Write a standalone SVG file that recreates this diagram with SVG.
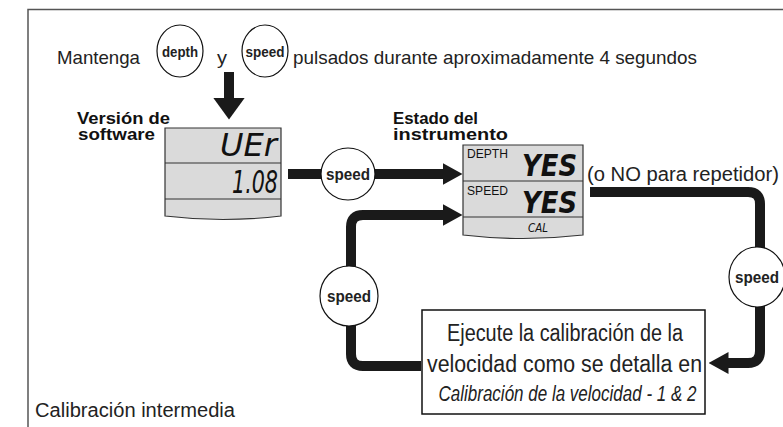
<svg xmlns="http://www.w3.org/2000/svg" width="783" height="427" viewBox="0 0 783 427">
<defs>
<marker id="ah" markerUnits="userSpaceOnUse" viewBox="0 0 20 22" refX="0.5" refY="11" markerWidth="20" markerHeight="22" orient="auto"><path d="M0,0 L20,11 L0,22 Z" fill="#1a1a1a"/></marker>
<marker id="ahBig" markerUnits="userSpaceOnUse" viewBox="0 0 22 32" refX="0.5" refY="16" markerWidth="22" markerHeight="32" orient="auto"><path d="M0,0 L22,16 L0,32 Z" fill="#1a1a1a"/></marker>
</defs>
<style>
.conn{fill:none;stroke:#1a1a1a;stroke-width:10}
.btn{fill:#fff;stroke:#111;stroke-width:1.2}
.btxt{font-family:"Liberation Sans",Arial,sans-serif;font-weight:bold;fill:#222;text-anchor:middle}
.t{font-family:"Liberation Sans",Arial,sans-serif;fill:#222}
.b{font-family:"Liberation Sans",Arial,sans-serif;font-weight:bold;fill:#111;font-size:16px}
.lcd{fill:#dadada;stroke:#333;stroke-width:1.2}
.div{stroke:#333;stroke-width:1.2}
.seg{font-family:"DejaVu Sans","Liberation Sans",sans-serif;font-style:italic;fill:#111;text-anchor:end}
.small{font-family:"Liberation Sans",Arial,sans-serif;fill:#111;font-size:12.5px}
</style>
<rect width="783" height="427" fill="#fff"/>
<path d="M28,427 V9.5 H783" fill="none" stroke="#555" stroke-width="1.5"/>

<g id="connectors">
<path class="conn" d="M229,72 V98" stroke-width="13" marker-end="url(#ahBig)"/>
<path class="conn" d="M288,174 H443" marker-end="url(#ah)"/>
<path class="conn" d="M421,366 H363 Q351,366 351,354 V227 Q351,215 363,215 H443" marker-end="url(#ah)"/>
<path class="conn" d="M590,192 H748 Q760,192 760,204 V351 Q760,363 748,363 H728" marker-end="url(#ah)"/>
</g>

<g id="instruction">
<text class="t" x="57" y="64" font-size="19" textLength="83" lengthAdjust="spacingAndGlyphs">Mantenga</text>
<text class="t" x="217" y="64" font-size="19" textLength="10" lengthAdjust="spacingAndGlyphs">y</text>
<text class="t" x="293" y="64" font-size="19" textLength="404" lengthAdjust="spacingAndGlyphs">pulsados durante aproximadamente 4 segundos</text>
</g>

<g id="btn-depth">
<ellipse class="btn" cx="180" cy="51" rx="23" ry="26"/>
<text class="btxt" x="180" y="56.5" font-size="15" textLength="36" lengthAdjust="spacingAndGlyphs">depth</text>
</g>
<g id="btn-speed-top">
<ellipse class="btn" cx="265" cy="51" rx="23" ry="26"/>
<text class="btxt" x="265" y="56.5" font-size="15" textLength="39" lengthAdjust="spacingAndGlyphs">speed</text>
</g>

<g id="lcd-version">
<text class="b" x="77" y="124" textLength="93" lengthAdjust="spacingAndGlyphs">Versión de</text>
<text class="b" x="78" y="140" textLength="77" lengthAdjust="spacingAndGlyphs">software</text>
<path class="lcd" d="M165,128 H281 V216 Q223,223 165,216 Z"/>
<line class="div" x1="165" y1="163" x2="281" y2="163"/>
<line class="div" x1="165" y1="199" x2="281" y2="199"/>
<text class="seg" x="277" y="156" font-size="32" textLength="57" lengthAdjust="spacingAndGlyphs">UEr</text>
<text class="seg" x="278" y="193" font-size="32" textLength="46" lengthAdjust="spacingAndGlyphs">1.08</text>
</g>

<g id="btn-speed-mid">
<ellipse class="btn" cx="348" cy="174" rx="27" ry="26"/>
<text class="btxt" x="348" y="180" font-size="16" textLength="44" lengthAdjust="spacingAndGlyphs">speed</text>
</g>

<g id="lcd-status">
<text class="b" x="393" y="124" textLength="85" lengthAdjust="spacingAndGlyphs">Estado del</text>
<text class="b" x="393" y="140" textLength="115" lengthAdjust="spacingAndGlyphs">instrumento</text>
<path class="lcd" d="M463,145 H583 V235 Q523,242 463,235 Z"/>
<line class="div" x1="463" y1="181" x2="583" y2="181"/>
<line class="div" x1="463" y1="217" x2="583" y2="217"/>
<text class="small" x="467" y="158" textLength="41" lengthAdjust="spacingAndGlyphs">DEPTH</text>
<text class="small" x="467" y="195" textLength="41" lengthAdjust="spacingAndGlyphs">SPEED</text>
<text class="seg" x="577" y="176" font-size="30" font-weight="bold" textLength="55" lengthAdjust="spacingAndGlyphs">YES</text>
<text class="seg" x="577" y="213" font-size="30" font-weight="bold" textLength="55" lengthAdjust="spacingAndGlyphs">YES</text>
<text class="seg" x="548" y="232" font-size="12" textLength="20" lengthAdjust="spacingAndGlyphs">CAL</text>
<text class="t" x="587" y="181" font-size="20" textLength="192" lengthAdjust="spacingAndGlyphs">(o NO para repetidor)</text>
</g>

<g id="btn-speed-right">
<ellipse class="btn" cx="757" cy="277" rx="28" ry="30"/>
<text class="btxt" x="757" y="283" font-size="16" textLength="44" lengthAdjust="spacingAndGlyphs">speed</text>
</g>

<g id="btn-speed-left">
<ellipse class="btn" cx="349" cy="296" rx="29" ry="30"/>
<text class="btxt" x="349" y="302" font-size="16" textLength="44" lengthAdjust="spacingAndGlyphs">speed</text>
</g>

<g id="calib-box">
<rect x="422" y="310" width="283" height="104" fill="#fff" stroke="#111" stroke-width="1.5"/>
<text class="t" x="565" y="341" font-size="23" text-anchor="middle" textLength="236" lengthAdjust="spacingAndGlyphs">Ejecute la calibración de la</text>
<text class="t" x="564.5" y="372" font-size="23" text-anchor="middle" textLength="275" lengthAdjust="spacingAndGlyphs">velocidad como se detalla en</text>
<text class="t" x="567.5" y="401" font-size="22" font-style="italic" text-anchor="middle" textLength="258" lengthAdjust="spacingAndGlyphs">Calibración de la velocidad - 1 &amp; 2</text>
</g>

<g id="caption">
<text class="t" x="35" y="417" font-size="20" textLength="200" lengthAdjust="spacingAndGlyphs">Calibración intermedia</text>
</g>
</svg>
